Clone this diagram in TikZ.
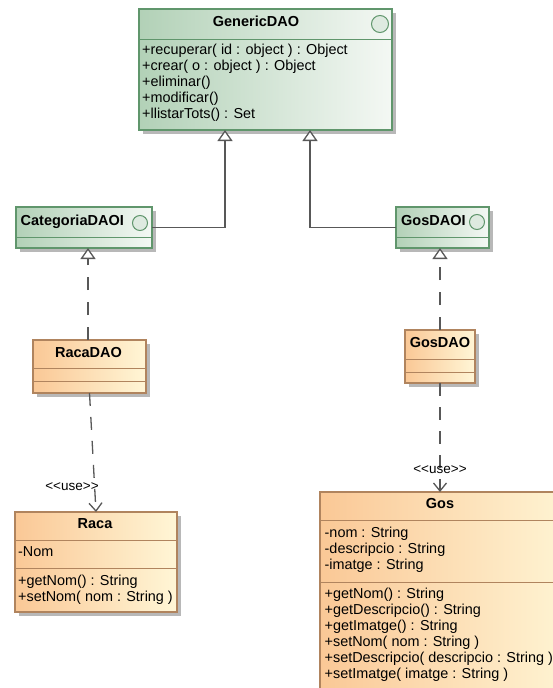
\documentclass[tikz,border=0pt]{standalone}
\usepackage{fontspec}
\setmainfont{Liberation Sans}
\usetikzlibrary{arrows.meta,shadows}

\definecolor{grnedge}{RGB}{96,150,108}
\definecolor{grnleft}{RGB}{178,209,183}
\definecolor{grnright}{RGB}{244,248,244}
\definecolor{grnball}{RGB}{222,234,224}
\definecolor{orgedge}{RGB}{176,132,94}
\definecolor{orgleft}{RGB}{250,200,150}
\definecolor{orgright}{RGB}{255,246,214}
\definecolor{wire}{RGB}{88,88,88}

\tikzset{
  x=1pt, y=-1pt,
  umlbox/.style={rectangle, anchor=north west, inner sep=0pt, outer sep=0pt,
    line width=1.2pt,
    general shadow={fill=black!28, shadow xshift=3.5pt, shadow yshift=-3.5pt}},
  ifacebox/.style={umlbox, draw=grnedge, left color=grnleft, right color=grnright},
  classbox/.style={umlbox, draw=orgedge, left color=orgleft, right color=orgright},
  grnsep/.style={draw=grnedge, line width=1pt},
  orgsep/.style={draw=orgedge, line width=1pt},
  ball/.style={circle, draw=grnedge, line width=1pt, fill=grnball, inner sep=0pt},
  ttl/.style={anchor=base, inner sep=0pt, font=\fontsize{14.5}{16}\selectfont\bfseries},
  ttlw/.style={anchor=base west, inner sep=0pt, font=\fontsize{14.5}{16}\selectfont\bfseries},
  mem/.style={anchor=base west, inner sep=0pt, font=\fontsize{14.4}{16}\selectfont},
  stereo/.style={anchor=base, inner sep=0pt, font=\fontsize{13.5}{15}\selectfont},
  genline/.style={draw=wire, line width=1.3pt,
    -{Triangle[open, length=11pt, width=15pt, fill=white]}},
  realline/.style={genline, dash pattern=on 13pt off 12pt},
  useline/.style={draw=wire, line width=1.3pt, dash pattern=on 13pt off 11pt,
    -{Straight Barb[length=8pt, width=13pt]}},
}

\begin{document}
\begin{tikzpicture}
\useasboundingbox (0,0) rectangle (553,688);
\fill[white] (0,0) rectangle (553,688);

% ---------- GenericDAO interface ----------
\node[ifacebox, minimum width=253pt, minimum height=121pt] (gdao) at (139,9) {};
\draw[grnsep] (139,39) -- (392,39);
\node[ball, minimum size=17pt] (gdaoball) at (380,24) {};
\node[ttl] (gdaot) at (256,26) {GenericDAO};
\node[mem] (gdao1) at (142,54)  {+recuperar( id : object ) : Object};
\node[mem] (gdao2) at (142,70)  {+crear( o : object ) : Object};
\node[mem] (gdao3) at (142,86)  {+eliminar()};
\node[mem] (gdao4) at (142,102) {+modificar()};
\node[mem] (gdao5) at (142,118) {+llistarTots() : Set};

% ---------- CategoriaDAOI interface ----------
\node[ifacebox, minimum width=136pt, minimum height=41pt] (cat) at (16,207) {};
\draw[grnsep] (16,237) -- (152,237);
\node[ball, minimum size=15pt] (catball) at (140,223) {};
\node[ttlw] (catt) at (20.5,225) {CategoriaDAOI};

% ---------- GosDAOI interface ----------
\node[ifacebox, minimum width=93pt, minimum height=41pt] (gosi) at (396,207) {};
\draw[grnsep] (396,237) -- (489,237);
\node[ball, minimum size=15pt] (gosiball) at (477,222) {};
\node[ttlw] (gosit) at (401,225) {GosDAOI};

% ---------- RacaDAO class ----------
\node[classbox, minimum width=113pt, minimum height=53pt] (racadao) at (33,340) {};
\draw[orgsep] (33,368) -- (146,368);
\draw[orgsep] (33,381) -- (146,381);
\node[ttl] (racadaot) at (88.5,357) {RacaDAO};

% ---------- GosDAO class ----------
\node[classbox, minimum width=70pt, minimum height=53pt] (gosdao) at (405,330) {};
\draw[orgsep] (405,359) -- (475,359);
\draw[orgsep] (405,372) -- (475,372);
\node[ttl] (gosdaot) at (440,347) {GosDAO};

% ---------- Raca class ----------
\node[classbox, minimum width=162pt, minimum height=100pt] (raca) at (15,512) {};
\draw[orgsep] (15,540) -- (177,540);
\draw[orgsep] (15,568) -- (177,568);
\node[ttl] (racat) at (95,528) {Raca};
\node[mem] (raca1) at (18,556) {-Nom};
\node[mem] (raca2) at (18,585) {+getNom() : String};
\node[mem] (raca3) at (18,601) {+setNom( nom : String )};

% ---------- Gos class (runs past the right edge) ----------
\node[classbox, minimum width=260pt, minimum height=200pt] (gos) at (320,492) {};
\draw[orgsep] (320,520) -- (580,520);
\draw[orgsep] (320,582) -- (580,582);
\node[ttl] (gost) at (440,508) {Gos};
\node[mem] (gosa1) at (324.5,537) {-nom : String};
\node[mem] (gosa2) at (324.5,553) {-descripcio : String};
\node[mem] (gosa3) at (324.5,569) {-imatge : String};
\node[mem] (gosm1) at (324.5,598) {+getNom() : String};
\node[mem] (gosm2) at (324.5,614) {+getDescripcio() : String};
\node[mem] (gosm3) at (324.5,630) {+getImatge() : String};
\node[mem] (gosm4) at (324.5,646) {+setNom( nom : String )};
\node[mem] (gosm5) at (324.5,662) {+setDescripcio( descripcio : String )};
\node[mem] (gosm6) at (324.5,678) {+setImatge( imatge : String )};

% ---------- generalizations ----------
\draw[genline] (cat.east) -| ([xshift=86pt]gdao.south west);
\draw[genline] (gosi.west) -| ([xshift=171pt]gdao.south west);

% ---------- realizations ----------
\draw[realline] ([xshift=-1.5pt]racadao.north) -- ([xshift=-1.5pt]racadao.north |- cat.south);
\draw[realline] (gosdao.north) -- (gosdao.north |- gosi.south);

% ---------- usage dependencies ----------
\draw[useline] (racadao.south) -- (raca.north);
\node[stereo] (racause) at (72,490) {{<}{<}use{>}{>}};
\draw[useline] (gosdao.south) -- (gosdao.south |- gos.north);
\node[stereo] (gosuse) at (440,473) {{<}{<}use{>}{>}};
\end{tikzpicture}
\end{document}
